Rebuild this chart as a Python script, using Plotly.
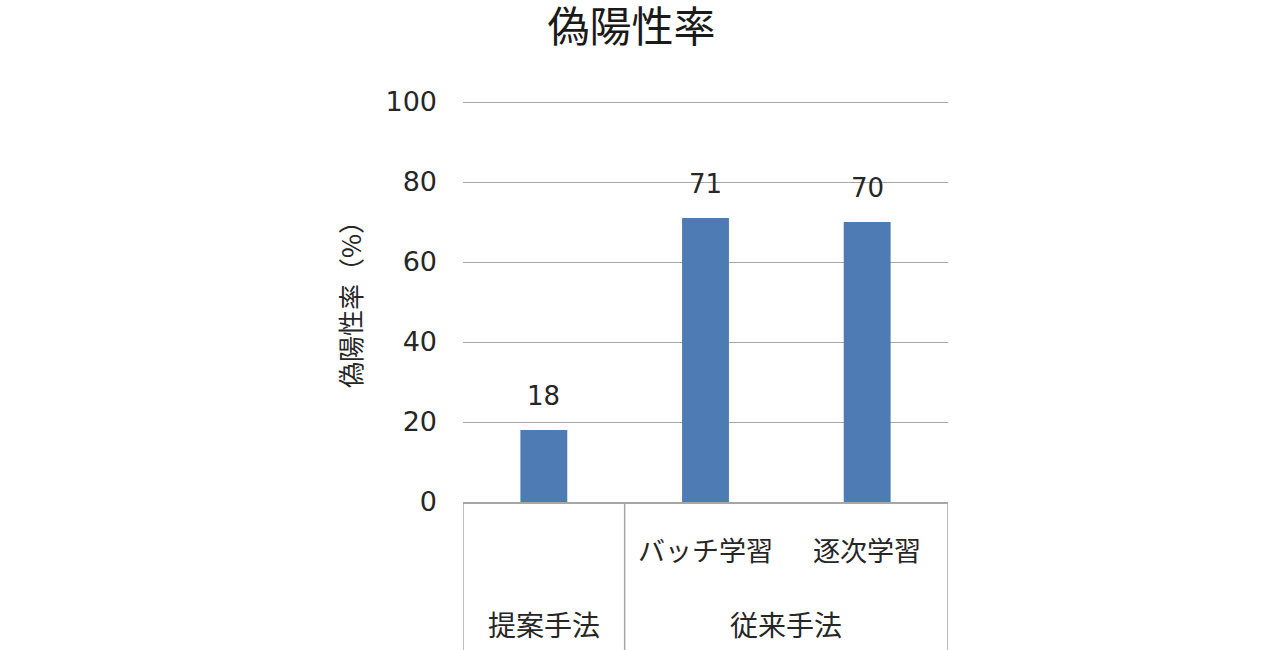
import plotly.graph_objects as go

# Data
categories = ["提案手法", "バッチ学習", "逐次学習"]
values = [18, 71, 70]
inner_labels = ["", "バッチ学習", "逐次学習"]
group_labels = ["提案手法", "従来手法"]
group_centers = [0, 1.5]  # category-index centre of each group
group_edges = [-0.5, 0.5, 2.5]
y_ticks = [0, 20, 40, 60, 80, 100]

title_text = "偽陽性率"
y_title = "偽陽性率（%）"

CJK = "Noto Sans CJK JP"
NUM = "DejaVu Sans"
bar_color = "#4f7bb5"
grid_color = "#a6a6a6"
text_color = "#262626"

fig = go.Figure()
fig.add_trace(go.Bar(
    x=list(range(len(categories))),
    y=values,
    marker=dict(color=bar_color, line=dict(width=0)),
    width=0.29,
    hoverinfo="skip",
))

annotations = []
# value labels
for i, v in enumerate(values):
    annotations.append(dict(
        x=i, y=v, xref="x", yref="y", text=str(v), showarrow=False,
        yshift=34, font=dict(family=NUM, size=26, color=text_color),
    ))
# inner category labels (paper y: 0 = axis line, plot height 408 px)
for i, lab in enumerate(inner_labels):
    if lab:
        annotations.append(dict(
            x=i, y=-0.116, xref="x", yref="paper", text=lab, showarrow=False,
            yanchor="middle", font=dict(family=CJK, size=27, color=text_color),
        ))
# group labels
for c, lab in zip(group_centers, group_labels):
    annotations.append(dict(
        x=c, y=-0.299, xref="x", yref="paper", text=lab, showarrow=False,
        yanchor="middle", font=dict(family=CJK, size=28, color=text_color),
    ))

shapes = []
for e in group_edges:
    shapes.append(dict(
        type="line", xref="x", yref="paper", x0=e, x1=e, y0=0, y1=-0.4,
        line=dict(color=grid_color, width=1.5),
    ))

fig.update_layout(
    width=1284, height=650,
    margin=dict(l=463, r=336, t=94, b=148),
    paper_bgcolor="white", plot_bgcolor="white",
    showlegend=False,
    title=dict(
        text=title_text, xref="container", yref="container",
        x=0.4918, y=0.958, xanchor="center", yanchor="middle",
        font=dict(family=CJK, size=42, color="#1a1a1a"),
    ),
    xaxis=dict(
        range=[-0.5, 2.5], showticklabels=False, ticks="",
        showgrid=False, zeroline=False,
        showline=True, linecolor=grid_color, linewidth=1.5,
        fixedrange=True,
    ),
    yaxis=dict(
        range=[0, 102], tickvals=y_ticks, ticks="",
        showgrid=True, gridcolor=grid_color, gridwidth=1.3,
        zeroline=False, showline=False,
        ticklabelstandoff=25,
        tickfont=dict(family=NUM, size=27, color=text_color),
        title=dict(text=y_title, standoff=16,
                   font=dict(family=CJK, size=26, color=text_color)),
        fixedrange=True,
    ),
    annotations=annotations,
    shapes=shapes,
)

fig.write_html(
    "out.html",
    config={"displayModeBar": False},
    post_script="document.body.style.margin='0';document.body.style.overflow='hidden';",
)
